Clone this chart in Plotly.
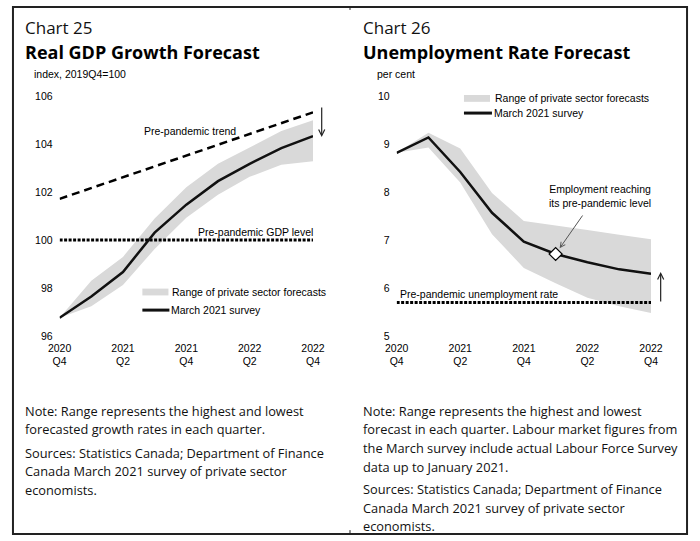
import plotly.graph_objects as go

# ---------------- data ----------------
quarters = ["2020Q4", "2021Q1", "2021Q2", "2021Q3", "2021Q4",
            "2022Q1", "2022Q2", "2022Q3", "2022Q4"]
tick_quarters = ["2020Q4", "2021Q2", "2021Q4", "2022Q2", "2022Q4"]
tick_labels = ["2020<br>Q4", "2021<br>Q2", "2021<br>Q4", "2022<br>Q2", "2022<br>Q4"]

# Chart 25 - Real GDP (index, 2019Q4=100)
gdp_survey = [96.76, 97.65, 98.67, 100.31, 101.48, 102.46, 103.18, 103.84, 104.34]
gdp_high = [96.76, 98.30, 99.30, 100.90, 102.20, 103.18, 103.86, 104.55, 105.00]
gdp_low = [96.76, 97.24, 98.13, 99.63, 100.93, 101.89, 102.64, 103.14, 103.29]
trend_quarters = ["2020Q4", "2022Q4"]
gdp_trend = [101.72, 105.33]
gdp_prepandemic_level = 100
gdp_ticks = [96, 98, 100, 102, 104, 106]

# Chart 26 - Unemployment rate (per cent)
unemp_survey = [8.82, 9.14, 8.42, 7.57, 6.97, 6.71, 6.54, 6.39, 6.30]
unemp_high = [8.82, 9.24, 8.91, 7.98, 7.40, 7.31, 7.21, 7.11, 7.02]
unemp_low = [8.82, 8.93, 8.20, 7.12, 6.42, 6.10, 5.80, 5.62, 5.48]
unemp_prepandemic_rate = 5.7
employment_recovery_quarter = "2022Q1"
unemp_ticks = [5, 6, 7, 8, 9, 10]

# ---------------- style ----------------
W, H = 700, 541
BAND = "#d9d9d9"
SANS = "Liberation Sans, Arial, sans-serif"
AX_FONT = dict(family=SANS, size=10.5, color="#000000")
NOTE_FONT = dict(family="Open Sans, Noto Sans, sans-serif", size=12.8, color="#111111")


def px(x):
    return x / W


def py(y):
    return 1 - y / H


fig = go.Figure()

# ---- Chart 25 traces ----
fig.add_trace(go.Scatter(x=quarters, y=gdp_high, mode="lines", line=dict(width=0, color=BAND),
                         hoverinfo="skip", showlegend=False, xaxis="x", yaxis="y"))
fig.add_trace(go.Scatter(x=quarters, y=gdp_low, mode="lines", line=dict(width=0, color=BAND),
                         fill="tonexty", fillcolor=BAND, showlegend=False, xaxis="x", yaxis="y"))
fig.add_trace(go.Scatter(x=trend_quarters, y=gdp_trend, mode="lines",
                         line=dict(color="#000000", width=2.5, dash="8px,5px"),
                         showlegend=False, xaxis="x", yaxis="y"))
fig.add_trace(go.Scatter(x=[quarters[0], quarters[-1]], y=[gdp_prepandemic_level] * 2, mode="lines",
                         line=dict(color="#000000", width=3, dash="3px,1.5px"),
                         showlegend=False, xaxis="x", yaxis="y"))
fig.add_trace(go.Scatter(x=quarters, y=gdp_survey, mode="lines",
                         line=dict(color="#111111", width=2.5),
                         showlegend=False, xaxis="x", yaxis="y"))

# ---- Chart 26 traces ----
fig.add_trace(go.Scatter(x=quarters, y=unemp_high, mode="lines", line=dict(width=0, color=BAND),
                         hoverinfo="skip", showlegend=False, xaxis="x2", yaxis="y2"))
fig.add_trace(go.Scatter(x=quarters, y=unemp_low, mode="lines", line=dict(width=0, color=BAND),
                         fill="tonexty", fillcolor=BAND, showlegend=False, xaxis="x2", yaxis="y2"))
fig.add_trace(go.Scatter(x=[quarters[0], quarters[-1]], y=[unemp_prepandemic_rate] * 2, mode="lines",
                         line=dict(color="#000000", width=3, dash="3px,1.5px"),
                         showlegend=False, xaxis="x2", yaxis="y2"))
fig.add_trace(go.Scatter(x=quarters, y=unemp_survey, mode="lines",
                         line=dict(color="#111111", width=2.5),
                         showlegend=False, xaxis="x2", yaxis="y2"))
ri = quarters.index(employment_recovery_quarter)
fig.add_trace(go.Scatter(x=[quarters[ri]], y=[unemp_survey[ri]], mode="markers",
                         marker=dict(symbol="diamond", size=10, color="#ffffff",
                                     line=dict(color="#000000", width=1.2)),
                         showlegend=False, cliponaxis=False, xaxis="x2", yaxis="y2"))

axis_common = dict(showgrid=False, zeroline=False, showline=False, ticks="",
                   tickfont=AX_FONT, fixedrange=True)

fig.update_layout(
    width=W, height=H, autosize=False,
    margin=dict(l=0, r=0, t=0, b=0),
    paper_bgcolor="#ffffff", plot_bgcolor="#ffffff",
    showlegend=False,
    xaxis=dict(domain=[px(49.3), px(311.7)], type="category", categoryorder="array",
               categoryarray=quarters, range=[0, 8], tickvals=tick_quarters,
               ticktext=tick_labels, anchor="y", ticklabelstandoff=4, **axis_common),
    yaxis=dict(domain=[py(337.5), py(92.3)], range=[96, 106], tickvals=gdp_ticks,
               anchor="x", ticklabelstandoff=6, **axis_common),
    xaxis2=dict(domain=[px(398.3), px(661.7)], type="category", categoryorder="array",
                categoryarray=quarters, range=[0, 8], tickvals=tick_quarters,
                ticktext=tick_labels, anchor="y2", ticklabelstandoff=4, **axis_common),
    yaxis2=dict(domain=[py(337.5), py(92.3)], range=[5, 10], tickvals=unemp_ticks,
                anchor="x2", ticklabelstandoff=6, **axis_common),
)

ann = []


def text(x, y, s, font, xanchor="left", align="left"):
    ann.append(dict(x=px(x), y=py(y), xref="paper", yref="paper", text=s, showarrow=False,
                    xanchor=xanchor, yanchor="middle", align=align, font=font))


TITLE_FONT = dict(family="Open Sans, Noto Sans, sans-serif", size=17, color="#111111")
BOLD_FONT = dict(family="Open Sans, Noto Sans, sans-serif", size=18, color="#000000", weight="bold")
SMALL = dict(family=SANS, size=10.5, color="#000000")

text(11, 22, "Chart 25", TITLE_FONT)
text(11, 47, "Real GDP Growth Forecast", BOLD_FONT)
text(361, 22, "Chart 26", TITLE_FONT)
text(361, 47, "Unemployment Rate Forecast", BOLD_FONT)
text(21, 70, "index, 2019Q4=100", SMALL)
text(376, 70, "per cent", SMALL)

# chart labels
text(135, 127.5, "Pre-pandemic trend", SMALL)
text(314, 231.5, "Pre-pandemic GDP level", SMALL, xanchor="right")
text(400, 294.5, "Pre-pandemic unemployment rate", SMALL)
text(609, 194, "Employment reaching<br>its pre-pandemic level", SMALL, xanchor="center", align="center")

# legends (drawn)
text(164, 292.5, "Range of private sector forecasts", SMALL)
text(163, 311, "March 2021 survey", SMALL)
text(498, 94.5, "Range of private sector forecasts", SMALL)
text(497, 109.5, "March 2021 survey", SMALL)

# notes
left_notes = [(414, "Note: Range represents the highest and lowest"),
              (433, "forecasted growth rates in each quarter."),
              (457, "Sources: Statistics Canada; Department of Finance"),
              (476, "Canada March 2021 survey of private sector"),
              (495, "economists.")]
right_notes = [(414, "Note: Range represents the highest and lowest"),
               (433, "forecast in each quarter. Labour market figures from"),
               (452, "the March survey include actual Labour Force Survey"),
               (471, "data up to January 2021."),
               (494, "Sources: Statistics Canada; Department of Finance"),
               (513, "Canada March 2021 survey of private sector"),
               (532, "economists.")]
for y, s in left_notes:
    text(11, y, s, NOTE_FONT)
for y, s in right_notes:
    text(361, y, s, NOTE_FONT)

# arrows
ann.append(dict(x=px(320.7), y=py(134), xref="paper", yref="paper", ax=0, ay=-31,
                text="", showarrow=True, arrowhead=5,
                arrowsize=1, arrowwidth=1.2, arrowcolor="#222222"))
ann.append(dict(x=px(671.7), y=py(272), xref="paper", yref="paper", ax=0, ay=31,
                text="", showarrow=True, arrowhead=5,
                arrowsize=1, arrowwidth=1.2, arrowcolor="#222222"))
ann.append(dict(x=quarters[ri], y=unemp_survey[ri], xref="x2", yref="y2", ax=28, ay=-40,
                text="", showarrow=True, arrowhead=5, arrowsize=1, arrowwidth=1,
                arrowcolor="#555555", standoff=7))

fig.update_layout(annotations=ann)

shapes = [
    # frame
    dict(type="rect", xref="paper", yref="paper", x0=px(1), x1=px(699), y0=py(540), y1=py(1),
         line=dict(color="#222222", width=2)),
    dict(type="line", xref="paper", yref="paper", x0=px(350), x1=px(350), y0=py(0), y1=py(4),
         line=dict(color="#222222", width=1)),
    dict(type="line", xref="paper", yref="paper", x0=px(350), x1=px(350), y0=py(536), y1=py(541),
         line=dict(color="#222222", width=1)),
    # legend swatches
    dict(type="rect", xref="paper", yref="paper", x0=px(135), x1=px(162), y0=py(296), y1=py(289),
         fillcolor=BAND, line=dict(width=0)),
    dict(type="line", xref="paper", yref="paper", x0=px(135), x1=px(163), y0=py(311), y1=py(311),
         line=dict(color="#111111", width=3)),
    dict(type="rect", xref="paper", yref="paper", x0=px(468), x1=px(495), y0=py(98), y1=py(91),
         fillcolor=BAND, line=dict(width=0)),
    dict(type="line", xref="paper", yref="paper", x0=px(468), x1=px(497), y0=py(109.5), y1=py(109.5),
         line=dict(color="#111111", width=3)),
]
fig.update_layout(shapes=shapes)

fig.write_html(
    "out.html",
    config={"displayModeBar": False},
    post_script="document.body.style.margin='0';document.body.style.padding='0';"
                "document.documentElement.style.overflow='hidden';",
)
